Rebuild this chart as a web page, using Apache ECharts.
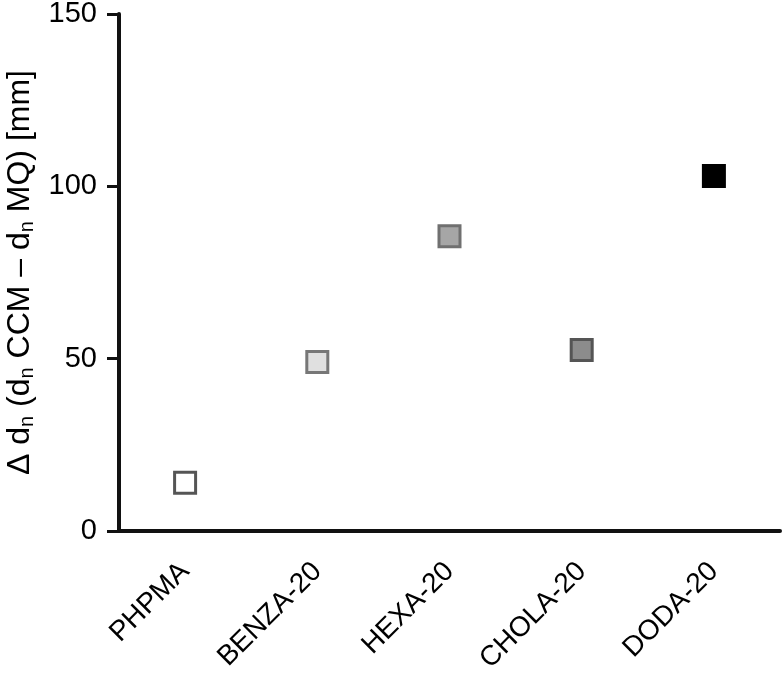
<!DOCTYPE html>
<html>
<head>
<meta charset="utf-8">
<script src="https://cdn.jsdelivr.net/npm/echarts@6/dist/echarts.min.js"></script>
<style>
  html, body { margin: 0; padding: 0; background: #fff; }
  #chart { width: 782px; height: 673px; }
</style>
</head>
<body>
<div id="chart"></div>
<script>
var categories = ['PHPMA', 'BENZA-20', 'HEXA-20', 'CHOLA-20', 'DODA-20'];
var values = [14, 49, 85.5, 52.5, 103];
var fills = ['#ffffff', '#e0e0e0', '#a6a6a6', '#8c8c8c', '#000000'];
var borders = ['#555555', '#777777', '#707070', '#555555', '#000000'];
var yTicks = [0, 50, 100, 150];

var font = 'Liberation Sans, Arial, sans-serif';
var axisCol = '#111';

var myChart = echarts.init(document.getElementById('chart'));

var option = {
    animation: false,
    textStyle: { fontFamily: font },
    grid: { left: 119, right: 2, top: 14, bottom: 142, containLabel: false, outerBoundsMode: 'none' },
    xAxis: {
        type: 'category',
        data: categories,
        boundaryGap: true,
        axisLine: { lineStyle: { color: axisCol, width: 4 } },
        axisTick: { alignWithLabel: true, length: 12, lineStyle: { color: axisCol, width: 3 } },
        axisLabel: { rotate: 45, fontSize: 28, color: '#000', margin: 36, fontFamily: font }
    },
    yAxis: {
        type: 'value',
        min: yTicks[0],
        max: yTicks[yTicks.length - 1],
        interval: 50,
        splitLine: { show: false },
        axisLine: { show: true, lineStyle: { color: axisCol, width: 4 } },
        axisTick: { show: true, length: 12, lineStyle: { color: axisCol, width: 3 } },
        axisLabel: { fontSize: 29, color: '#000', margin: 22, fontFamily: font },
        name: '{m|Δ d}{s|n}{m| (d}{s|n}{m| CCM – d}{s|n}{m| MQ) [mm]}',
        nameLocation: 'middle',
        nameRotate: 90,
        nameGap: 73,
        nameTextStyle: {
            rich: {
                m: { fontSize: 32, color: '#000', fontFamily: font },
                s: { fontSize: 20, color: '#000', fontFamily: font, padding: [16, 0, 0, 0] }
            }
        }
    },
    series: [{
        type: 'scatter',
        symbol: 'rect',
        symbolSize: 21,
        data: values.map(function (v, i) {
            return {
                value: v,
                itemStyle: { color: fills[i], borderColor: borders[i], borderWidth: 3, opacity: 1 }
            };
        })
    }]
};

myChart.setOption(option);
</script>
</body>
</html>
